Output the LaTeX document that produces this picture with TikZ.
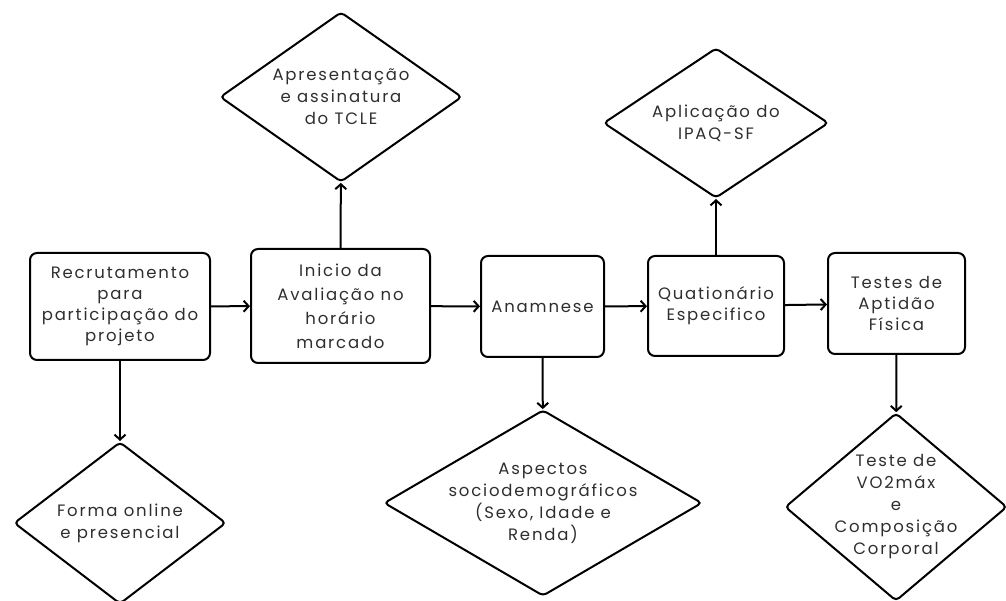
\documentclass[tikz,border=0pt]{standalone}
\usepackage{fontspec}
\setmainfont{Poppins}[LetterSpace=11]
\usepackage{xcolor}
\usetikzlibrary{shapes.geometric,arrows.meta}

\definecolor{textgray}{HTML}{2E2E2E}

\begin{document}
\begin{tikzpicture}[x=1pt, y=1pt, >={Straight Barb[length=5pt, width=11pt]},
    etapa/.style={draw, line width=2pt, rounded corners=7pt, align=center,
        text=textgray, font=\fontsize{16.5}{21}\selectfont, inner sep=0pt},
    decisao/.style={draw, diamond, line width=2pt, rounded corners=4pt, align=center,
        text=textgray, font=\fontsize{16.5}{22}\selectfont, inner sep=-30pt},
    seta/.style={->, line width=2pt}]
    \useasboundingbox (0,0) rectangle (1006,600);

    % etapas principais
    \node[etapa, minimum width=180pt, minimum height=107pt] (recrutamento) at (120,293.5)
        {Recrutamento\\para\\participação do\\projeto};
    \node[etapa, minimum width=179pt, minimum height=114pt, font=\fontsize{16.5}{24}\selectfont] (inicio) at (340.5,294)
        {Inicio da\\Avaliação no\\horário\\marcado};
    \node[etapa, minimum width=123pt, minimum height=101pt] (anamnese) at (542.5,293.5) {Anamnese};
    \node[etapa, minimum width=136pt, minimum height=100pt] (questionario) at (716,294)
        {Quationário\\Especifico};
    \node[etapa, minimum width=137pt, minimum height=101pt] (testes) at (896.5,296.5)
        {Testes de\\Aptidão\\Física};

    % losangos
    \node[decisao, minimum width=212pt, minimum height=162pt] (forma) at (120,77)
        {Forma online\\e presencial};
    \node[decisao, minimum width=242pt, minimum height=170pt] (tcle) at (341,503)
        {Apresentação\\e assinatura\\do TCLE};
    \node[decisao, minimum width=318pt, minimum height=186pt] (aspectos) at (543,97)
        {Aspectos\\sociodemográficos\\(Sexo, Idade e\\Renda)};
    \node[decisao, minimum width=225pt, minimum height=150pt] (ipaq) at (716,477)
        {Aplicação do\\IPAQ-SF};
    \node[decisao, minimum width=222pt, minimum height=188pt] (vo2) at (896,93)
        {Teste de\\VO2máx\\e\\Composição\\Corporal};

    % ligações
    \draw[seta] (recrutamento) -- (inicio);
    \draw[seta] (inicio) -- (anamnese);
    \draw[seta] (anamnese) -- (questionario);
    \draw[seta] (questionario) -- (testes);
    \draw[seta] (recrutamento) -- (forma);
    \draw[seta] (inicio) -- (tcle);
    \draw[seta] (anamnese) -- (aspectos);
    \draw[seta] (questionario) -- (ipaq);
    \draw[seta] (testes) -- (vo2);
\end{tikzpicture}
\end{document}
